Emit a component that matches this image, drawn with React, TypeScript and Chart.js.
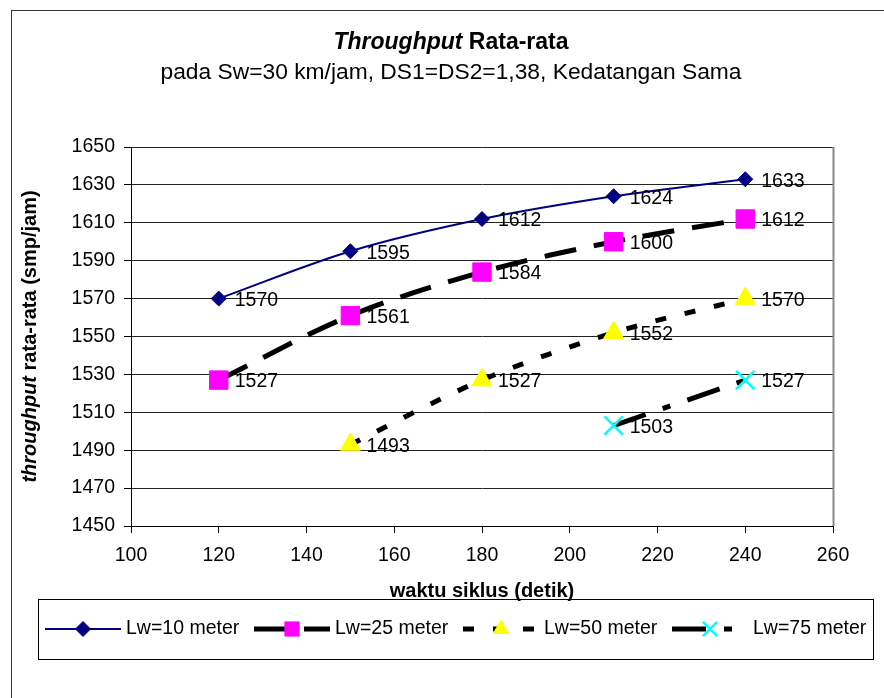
import React, { useEffect, useRef } from "react";
import { Chart, registerables } from "chart.js";
import { drawPoint } from "chart.js/helpers";

Chart.register(...registerables);

const cycleTimes = [120, 150, 180, 210, 240];
const lw10 = [1570, 1595, 1612, 1624, 1633];
const lw25 = [1527, 1561, 1584, 1600, 1612];
const lw50 = [null, 1493, 1527, 1552, 1570];
const lw75 = [null, null, null, 1503, 1527];
const seriesNames = ["Lw=10 meter", "Lw=25 meter", "Lw=50 meter", "Lw=75 meter"];
const titleItalic = "Throughput";
const titleRest = " Rata-rata";
const subtitle = "pada Sw=30 km/jam, DS1=DS2=1,38, Kedatangan Sama";
const xTitle = "waktu siklus (detik)";
const yTitleItalic = "throughput";
const yTitleRest = " rata-rata (smp/jam)";
const xMin = 100, xMax = 260, xStep = 20;
const yMin = 1450, yMax = 1650, yStep = 20;

const FONT = "'Liberation Sans', Arial, sans-serif";

function toPoints(vals: (number | null)[]) {
  return cycleTimes
    .map((x, i) => ({ x, y: vals[i] }))
    .filter((p) => p.y !== null) as { x: number; y: number }[];
}

const decorPlugin = {
  id: "decor",
  beforeDraw(chart: any) {
    const ctx = chart.ctx;
    ctx.save();
    ctx.fillStyle = "#fff";
    ctx.fillRect(0, 0, chart.width, chart.height);
    ctx.strokeStyle = "#333";
    ctx.lineWidth = 1;
    ctx.strokeRect(11.5, 10.5, chart.width + 20, chart.height + 20);
    ctx.restore();
  },
  afterDatasetsDraw(chart: any) {
    const ctx = chart.ctx;
    const ca = chart.chartArea;
    ctx.save();
    ctx.strokeStyle = "#888";
    ctx.lineWidth = 2;
    ctx.beginPath();
    ctx.moveTo(Math.round(ca.right) + 0.5, ca.top);
    ctx.lineTo(Math.round(ca.right) + 0.5, ca.bottom);
    ctx.stroke();

    ctx.fillStyle = "#000";
    ctx.font = `19.5px ${FONT}`;
    ctx.textAlign = "left";
    ctx.textBaseline = "middle";
    chart.data.datasets.forEach((ds: any, di: number) => {
      const meta = chart.getDatasetMeta(di);
      meta.data.forEach((el: any, i: number) => {
        ctx.fillText(String(ds.data[i].y), el.x + 16, el.y + 2);
      });
    });
    ctx.restore();
  },
  afterDraw(chart: any) {
    const ctx = chart.ctx;
    const ca = chart.chartArea;
    ctx.save();
    ctx.fillStyle = "#000";
    ctx.textBaseline = "middle";
    ctx.textAlign = "left";

    const tf1 = `italic bold 23px ${FONT}`;
    const tf2 = `bold 23px ${FONT}`;
    ctx.font = tf1;
    const w1 = ctx.measureText(titleItalic).width;
    ctx.font = tf2;
    const w2 = ctx.measureText(titleRest).width;
    const tx = 451 - (w1 + w2) / 2;
    ctx.font = tf1;
    ctx.fillText(titleItalic, tx, 43);
    ctx.font = tf2;
    ctx.fillText(titleRest, tx + w1, 43);

    ctx.font = `22.8px ${FONT}`;
    ctx.textAlign = "center";
    ctx.fillText(subtitle, 451, 73);

    ctx.font = `bold 20px ${FONT}`;
    ctx.fillText(xTitle, (ca.left + ca.right) / 2, 591);

    const yf1 = `italic bold 20px ${FONT}`;
    const yf2 = `bold 20px ${FONT}`;
    ctx.font = yf1;
    const yw1 = ctx.measureText(yTitleItalic).width;
    ctx.font = yf2;
    const yw2 = ctx.measureText(yTitleRest).width;
    ctx.translate(30, (ca.top + ca.bottom) / 2);
    ctx.rotate(-Math.PI / 2);
    ctx.textAlign = "left";
    ctx.font = yf1;
    ctx.fillText(yTitleItalic, -(yw1 + yw2) / 2, 0);
    ctx.font = yf2;
    ctx.fillText(yTitleRest, -(yw1 + yw2) / 2 + yw1, 0);
    ctx.setTransform(1, 0, 0, 1, 0, 0);

    ctx.strokeStyle = "#000";
    ctx.lineWidth = 1;
    ctx.strokeRect(38.5, 599.5, 835, 60);
    const ly = 629;
    chart.data.datasets.forEach((ds: any, i: number) => {
      const sx = 45 + i * 209;
      ctx.save();
      ctx.strokeStyle = ds.borderColor;
      ctx.lineWidth = ds.borderWidth;
      ctx.setLineDash(ds.borderDash || []);
      ctx.beginPath();
      ctx.moveTo(sx, ly);
      ctx.lineTo(sx + 76, ly);
      ctx.stroke();
      ctx.restore();
      ctx.save();
      ctx.fillStyle = ds.pointBackgroundColor;
      ctx.strokeStyle = ds.pointBorderColor;
      ctx.lineWidth = ds.pointBorderWidth;
      const scale = ds.pointStyle === "rectRot" ? 1 : 0.77;
      drawPoint(ctx, { pointStyle: ds.pointStyle, rotation: 0, borderWidth: ds.pointBorderWidth, radius: ds.pointRadius * scale }, sx + 38, ly);
      ctx.restore();
      ctx.fillStyle = "#000";
      ctx.font = `19.5px ${FONT}`;
      ctx.textAlign = "left";
      ctx.fillText(seriesNames[i], sx + 81, ly);
    });
    ctx.restore();
  },
};

export default function App() {
  const ref = useRef<HTMLCanvasElement>(null);
  useEffect(() => {
    if (!ref.current) return;
    const tension = 0.33;
    const chart = new Chart(ref.current, {
      type: "line",
      data: {
        datasets: [
          {
            label: seriesNames[0],
            data: toPoints(lw10),
            borderColor: "#000080",
            borderWidth: 2,
            pointStyle: "rectRot",
            pointRadius: 7.5,
            pointBackgroundColor: "#000080",
            pointBorderColor: "#000080",
            pointBorderWidth: 1,
            tension,
          },
          {
            label: seriesNames[1],
            data: toPoints(lw25),
            borderColor: "#000",
            borderWidth: 5,
            borderDash: [32, 18],
            pointStyle: "rect",
            pointRadius: 13,
            pointBackgroundColor: "#ff00ff",
            pointBorderColor: "#ff00ff",
            pointBorderWidth: 1,
            tension,
          },
          {
            label: seriesNames[2],
            data: toPoints(lw50),
            borderColor: "#000",
            borderWidth: 5,
            borderDash: [11, 19],
            pointStyle: "triangle",
            pointRadius: 11.5,
            pointBackgroundColor: "#ffff00",
            pointBorderColor: "#ffff00",
            pointBorderWidth: 1,
            tension,
          },
          {
            label: seriesNames[3],
            data: toPoints(lw75),
            borderColor: "#000",
            borderWidth: 5,
            borderDash: [34, 18, 8, 18],
            pointStyle: "crossRot",
            pointRadius: 13,
            pointBackgroundColor: "#00ffff",
            pointBorderColor: "#00ffff",
            pointBorderWidth: 2.5,
            tension,
          },
        ],
      },
      options: {
        animation: false,
        responsive: false,
        layout: { padding: { left: 0, top: 147, right: 51, bottom: 0 } },
        plugins: { legend: { display: false }, tooltip: { enabled: false }, title: { display: false } },
        scales: {
          x: {
            type: "linear",
            min: xMin,
            max: xMax,
            afterFit: (s: any) => {
              s.height = 172;
            },
            ticks: {
              stepSize: xStep,
              color: "#000",
              font: { family: FONT, size: 19.5 },
              padding: 11,
              maxRotation: 0,
              autoSkip: false,
              callback: (v: any) => String(v),
            },
            grid: { drawOnChartArea: false, drawTicks: true, tickLength: 7, tickColor: "#000", color: "#000" },
            border: { display: true, color: "#000", width: 1 },
          },
          y: {
            type: "linear",
            min: yMin,
            max: yMax,
            afterFit: (s: any) => {
              s.width = 131;
            },
            ticks: {
              stepSize: yStep,
              color: "#000",
              font: { family: FONT, size: 19.5 },
              padding: 9,
              autoSkip: false,
              callback: (v: any) => String(v),
            },
            grid: { drawOnChartArea: true, drawTicks: true, tickLength: 7, tickColor: "#000", color: "#222", lineWidth: 1 },
            border: { display: true, color: "#000", width: 1 },
          },
        },
      },
      plugins: [decorPlugin],
    });
    return () => chart.destroy();
  }, []);
  return (
    <div style={{ position: "absolute", left: 0, top: 0, width: 884, height: 698 }}>
      <canvas ref={ref} width={884} height={698} style={{ width: 884, height: 698, display: "block" }} />
    </div>
  );
}
